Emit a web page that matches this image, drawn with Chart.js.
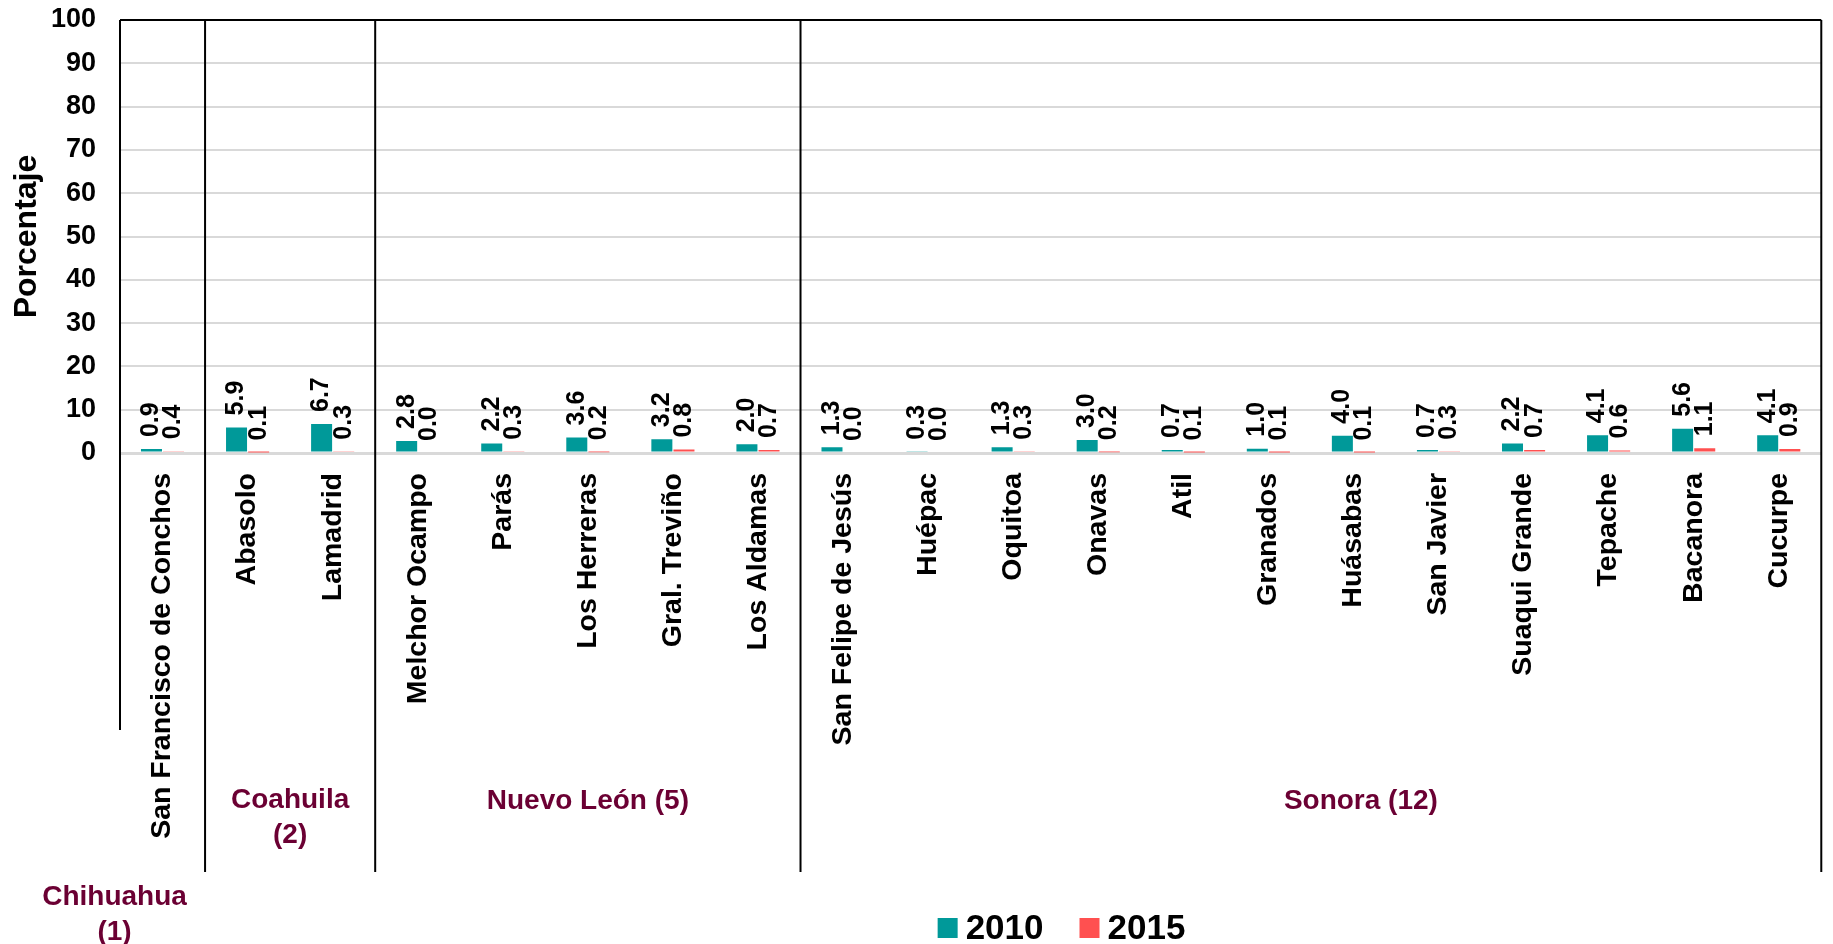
<!DOCTYPE html>
<html>
<head>
<meta charset="utf-8">
<title>Porcentaje 2010 y 2015</title>
<script src="https://cdn.jsdelivr.net/npm/chart.js@4.4.1/dist/chart.umd.min.js"></script>
<style>
  html, body { margin: 0; padding: 0; background: #fff; }
  #wrap { width: 1833px; height: 944px; }
</style>
</head>
<body>
<div id="wrap"><canvas id="chart"></canvas></div>
<script>
const municipios = [
  'San Francisco de Conchos',
  'Abasolo', 'Lamadrid',
  'Melchor Ocampo', 'Parás', 'Los Herreras', 'Gral. Treviño', 'Los Aldamas',
  'San Felipe de Jesús', 'Huépac', 'Oquitoa', 'Onavas', 'Atil', 'Granados',
  'Huásabas', 'San Javier', 'Suaqui Grande', 'Tepache', 'Bacanora', 'Cucurpe'
];
const valores2010 = [0.9, 5.9, 6.7, 2.8, 2.2, 3.6, 3.2, 2.0, 1.3, 0.3, 1.3, 3.0, 0.7, 1.0, 4.0, 0.7, 2.2, 4.1, 5.6, 4.1];
const valores2015 = [0.4, 0.1, 0.3, 0.0, 0.3, 0.2, 0.8, 0.7, 0.0, 0.0, 0.3, 0.2, 0.1, 0.1, 0.1, 0.3, 0.7, 0.6, 1.1, 0.9];
const estados = [['Chihuahua', '(1)'], ['Coahuila', '(2)'], ['Nuevo León (5)'], ['Sonora (12)']];
const municipiosPorEstado = [1, 2, 5, 12];
const yTicks = [0, 10, 20, 30, 40, 50, 60, 70, 80, 90, 100];

const FONT = '"Liberation Sans", Arial, sans-serif';
const TEAL = '#009999';
const RED = '#FF5050';
const MAROON = '#6B0033';

// where the state names sit (shift from group centre, baseline)
const estadoPos = [
  { dx: -48, y: 905 },
  { dx: 0, y: 808 },
  { dx: 0, y: 809 },
  { dx: 50, y: 809 }
];

const extras = {
  id: 'extras',
  afterDatasetsDraw(chart) {
    const { ctx, chartArea: a, scales: { x } } = chart;
    ctx.save();

    // value labels above bars
    ctx.font = 'bold 25px ' + FONT;
    ctx.fillStyle = '#000';
    ctx.textAlign = 'left';
    ctx.textBaseline = 'middle';
    chart.data.datasets.forEach((ds, i) => {
      chart.getDatasetMeta(i).data.forEach((bar, j) => {
        ctx.save();
        ctx.translate(bar.x, bar.y - 12);
        ctx.rotate(-Math.PI / 2);
        ctx.fillText(ds.data[j].toFixed(1), 0, 0);
        ctx.restore();
      });
    });

    // group separators
    const step = x.getPixelForValue(1) - x.getPixelForValue(0);
    ctx.strokeStyle = '#000';
    ctx.lineWidth = 2;
    ctx.beginPath();
    ctx.moveTo(a.left, a.top);
    ctx.lineTo(a.left, 730);
    let idx = 0;
    const bounds = [a.left];
    municipiosPorEstado.forEach(n => {
      idx += n;
      const px = Math.min(x.getPixelForValue(idx - 1) + step / 2, a.right);
      bounds.push(px);
      ctx.moveTo(px, a.top);
      ctx.lineTo(px, 872);
    });
    ctx.stroke();

    // state names
    ctx.font = 'bold 28px ' + FONT;
    ctx.fillStyle = MAROON;
    ctx.textAlign = 'center';
    ctx.textBaseline = 'alphabetic';
    estados.forEach((lines, g) => {
      const cx = (bounds[g] + bounds[g + 1]) / 2 + estadoPos[g].dx;
      lines.forEach((t, k) => ctx.fillText(t, cx, estadoPos[g].y + k * 35));
    });

    // legend
    ctx.font = 'bold 35px ' + FONT;
    ctx.textAlign = 'left';
    ctx.textBaseline = 'middle';
    const box = 20, gap = 8, itemGap = 36;
    const items = chart.data.datasets.map(ds => ({ label: ds.label, color: ds.backgroundColor, w: ctx.measureText(ds.label).width }));
    const total = items.reduce((s, it) => s + box + gap + it.w, 0) + itemGap * (items.length - 1);
    let lx = chart.width / 2 + 145 - total / 2;
    const ly = 928;
    items.forEach(it => {
      ctx.fillStyle = it.color;
      ctx.fillRect(lx, ly - box / 2, box, box);
      ctx.fillStyle = '#000';
      ctx.fillText(it.label, lx + box + gap, ly + 1);
      lx += box + gap + it.w + itemGap;
    });

    ctx.restore();
  }
};

new Chart(document.getElementById('chart'), {
  type: 'bar',
  data: {
    labels: municipios,
    datasets: [
      { label: '2010', data: valores2010, backgroundColor: TEAL },
      { label: '2015', data: valores2015, backgroundColor: RED }
    ]
  },
  options: {
    responsive: true,
    maintainAspectRatio: false,
    animation: false,
    events: [],
    layout: { padding: { top: 20, right: 2, bottom: 0, left: 0 } },
    datasets: {
      bar: { categoryPercentage: 0.52, barPercentage: 0.95 }
    },
    scales: {
      x: {
        afterFit: (s) => { s.height = 491; },
        grid: { display: false, drawTicks: false },
        border: { display: false },
        ticks: {
          autoSkip: false,
          minRotation: 90,
          maxRotation: 90,
          padding: 20,
          color: '#000',
          font: { family: FONT, size: 28.5, weight: 'bold' }
        }
      },
      y: {
        min: 0,
        max: 100,
        afterFit: (s) => { s.width = 120; s.paddingTop = 0; s.paddingBottom = 0; },
        afterBuildTicks: (s) => { s.ticks = yTicks.map(v => ({ value: v })); },
        grid: {
          drawTicks: false,
          color: (c) => c.tick && c.tick.value === 100 ? '#000' : '#D9D9D9',
          lineWidth: (c) => c.tick && c.tick.value === 0 ? 3 : 2
        },
        border: { display: false },
        ticks: {
          padding: 24,
          color: '#000',
          font: { family: FONT, size: 27, weight: 'bold' }
        },
        title: {
          display: true,
          text: 'Porcentaje',
          color: '#000',
          padding: { top: 8, bottom: 0 },
          font: { family: FONT, size: 32, weight: 'bold' }
        }
      }
    },
    plugins: {
      legend: { display: false },
      tooltip: { enabled: false }
    }
  },
  plugins: [extras]
});
</script>
</body>
</html>
